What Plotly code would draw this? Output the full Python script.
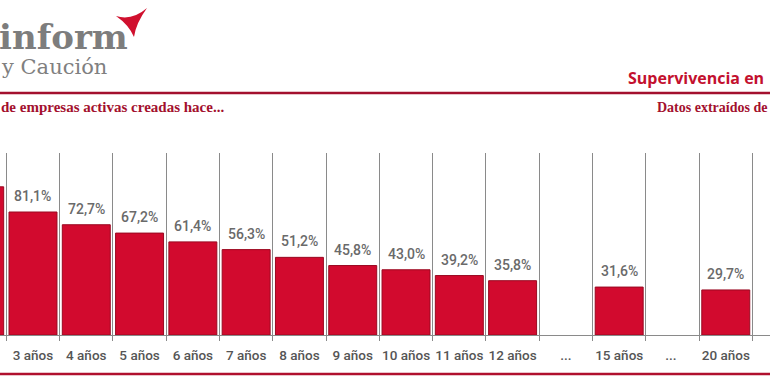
import plotly.graph_objects as go

# ---- data ----
categories = ["2 años", "3 años", "4 años", "5 años", "6 años", "7 años", "8 años",
              "9 años", "10 años", "11 años", "12 años", "...", "15 años", "... ", "20 años"]
values = [97.7, 81.1, 72.7, 67.2, 61.4, 56.3, 51.2, 45.8, 43.0, 39.2, 35.8,
          None, 31.6, None, 29.7]
value_labels = [None if v is None else f"{v:.1f}".replace(".", ",") + "%" for v in values]

W, H = 770, 380
RED = "#d20a2e"
DARKRED = "#a3102e"
GRAY = "#6a6a6a"
LABEL_FONT = "Roboto, sans-serif"


def py(pix):
    return 1 - pix / H


def px(pix):
    return pix / W


fig = go.Figure()
fig.add_trace(go.Bar(
    x=categories, y=values,
    marker=dict(color=RED, line=dict(color="#9a0820", width=1)),
    hoverinfo="x+y",
))

# value labels above bars
for c, v, t in zip(categories, values, value_labels):
    if v is None or c == categories[0]:
        continue
    fig.add_annotation(x=c, y=v, text=t, showarrow=False, yshift=16,
                       font=dict(family=LABEL_FONT, size=14, color=GRAY, weight=500),
                       xref="x", yref="y")

fig.update_layout(
    width=W, height=H,
    margin=dict(l=0, r=0, t=0, b=0),
    paper_bgcolor="white", plot_bgcolor="white",
    showlegend=False,
    bargap=0.1,
    xaxis=dict(
        type="category",
        range=[0.381, 14.83],
        domain=[0, 1],
        tickson="boundaries",
        showgrid=True, gridcolor="#8a8a8a", gridwidth=1,
        ticks="outside", ticklen=5, tickcolor="#8a8a8a",
        showline=True, linecolor="#8a8a8a", linewidth=1,
        tickfont=dict(family=LABEL_FONT, size=13.5, color="#555555", weight=500),
        tickangle=0,
        ticklabelstandoff=8,
        automargin=False,
        fixedrange=True,
    ),
    yaxis=dict(
        range=[0, 120],
        domain=[py(335), py(153)],
        showgrid=False, showticklabels=False, zeroline=False, showline=False,
        automargin=False,
        fixedrange=True,
    ),
)

# header texts
fig.add_annotation(xref="paper", yref="paper", x=px(-3), y=py(37), xanchor="left", yanchor="middle",
                   text="<b>inform</b>", showarrow=False,
                   font=dict(family="DejaVu Serif, Liberation Serif, serif", size=34, color="#7d7d7d"))
fig.add_annotation(xref="paper", yref="paper", x=px(-1), y=py(67), xanchor="left", yanchor="middle",
                   text="y Caución", showarrow=False,
                   font=dict(family="DejaVu Serif, Liberation Serif, serif", size=21, color="#808080"))
fig.add_annotation(xref="paper", yref="paper", x=px(-1), y=py(107), xanchor="left", yanchor="middle",
                   text="<b>de empresas activas creadas hace...</b>", showarrow=False,
                   font=dict(family="Liberation Serif, DejaVu Serif, serif", size=15, color=DARKRED))
fig.add_annotation(xref="paper", yref="paper", x=px(626), y=py(78), xanchor="left", yanchor="middle",
                   text="<b>Supervivencia en</b>", showarrow=False,
                   font=dict(family="Open Sans, Roboto, sans-serif", size=16, color="#c3102e"))
fig.add_annotation(xref="paper", yref="paper", x=px(655), y=py(107), xanchor="left", yanchor="middle",
                   text="<b>Datos extraídos de</b>", showarrow=False,
                   font=dict(family="Liberation Serif, DejaVu Serif, serif", size=14, color=DARKRED))

# lines
fig.add_shape(type="line", xref="paper", yref="paper", x0=0, x1=1, y0=py(93), y1=py(93),
              line=dict(color=DARKRED, width=2.5))
fig.add_shape(type="line", xref="paper", yref="paper", x0=0, x1=1, y0=py(374), y1=py(374),
              line=dict(color="#b0102e", width=2.5))

# logo mark
pts = [(116, 16), (132, 21), (147, 8), (136, 23), (134, 37), (129, 25)]
path = (f"M {px(pts[0][0])},{py(pts[0][1])} Q {px(pts[1][0])},{py(pts[1][1])} {px(pts[2][0])},{py(pts[2][1])} "
        f"Q {px(pts[3][0])},{py(pts[3][1])} {px(pts[4][0])},{py(pts[4][1])} "
        f"Q {px(pts[5][0])},{py(pts[5][1])} {px(pts[0][0])},{py(pts[0][1])} Z")
fig.add_shape(type="path", xref="paper", yref="paper", path=path,
              fillcolor="#d0102e", line=dict(width=0))

fig.write_html("out.html", config={"displayModeBar": False},
               post_script="document.body.style.margin='0';")
